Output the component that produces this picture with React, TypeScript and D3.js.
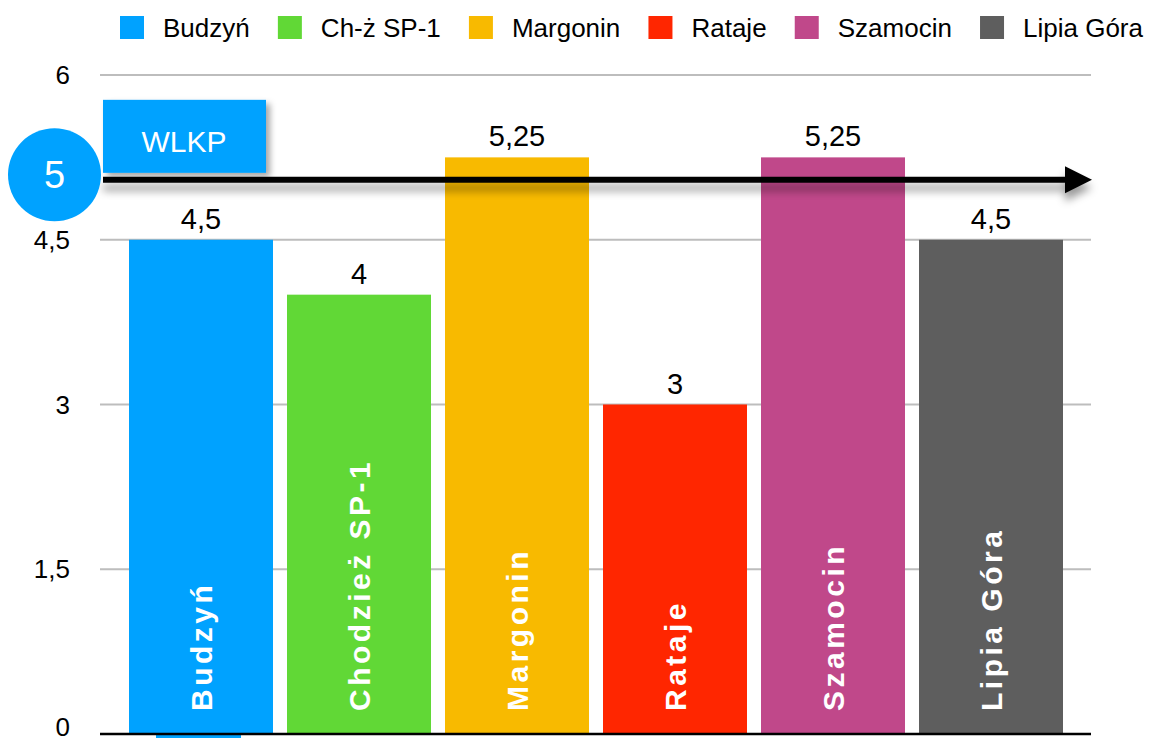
import React, { useEffect, useRef } from 'react';
import * as d3 from 'd3';

const categories = ['Budzyń', 'Chodzież SP-1', 'Margonin', 'Rataje', 'Szamocin', 'Lipia Góra'];
const legendLabels = ['Budzyń', 'Ch-ż SP-1', 'Margonin', 'Rataje', 'Szamocin', 'Lipia Góra'];
const values = [4.5, 4, 5.25, 3, 5.25, 4.5];
const colors = ['#00A2FF', '#61D836', '#F8BA00', '#FF2600', '#C0488A', '#5E5E5E'];
const yTicks = [0, 1.5, 3, 4.5, 6];
const referenceValue = 5;
const referenceLabel = 'WLKP';

const W = 1149;
const H = 744;
const FONT = "'Liberation Sans', Arial, Helvetica, sans-serif";

const fmt = (v: number) => String(v).replace('.', ',');

export default function App() {
  const ref = useRef<SVGSVGElement>(null);

  useEffect(() => {
    const svg = d3.select(ref.current);
    svg.selectAll('*').remove();

    const defs = svg.append('defs');
    const f1 = defs.append('filter').attr('id', 'arrowShadow').attr('x', '-10%').attr('y', '-200%').attr('width', '120%').attr('height', '500%');
    f1.append('feDropShadow').attr('dx', 0).attr('dy', 8).attr('stdDeviation', 4).attr('flood-color', '#000').attr('flood-opacity', 0.4);
    const f2 = defs.append('filter').attr('id', 'boxShadow').attr('x', '-20%').attr('y', '-20%').attr('width', '140%').attr('height', '150%');
    f2.append('feDropShadow').attr('dx', 4).attr('dy', 4).attr('stdDeviation', 3).attr('flood-color', '#000').attr('flood-opacity', 0.35);

    const x = d3.scaleBand<string>().domain(categories).range([122, 1070]).paddingInner(0.0886).paddingOuter(0.0443);
    const y = d3.scaleLinear().domain([0, 6]).range([734, 75]);
    const gridX0 = 100;
    const gridX1 = 1091;

    // gridlines
    svg.append('g').selectAll('line').data(yTicks.filter(t => t > 0)).join('line')
      .attr('x1', gridX0).attr('x2', gridX1)
      .attr('y1', d => y(d)).attr('y2', d => y(d))
      .attr('stroke', '#BDBDBD').attr('stroke-width', 2);

    // y tick labels
    svg.append('g').selectAll('text').data(yTicks).join('text')
      .attr('x', 70).attr('y', d => Math.min(y(d) + 9, H - 8))
      .attr('text-anchor', 'end')
      .attr('font-family', FONT).attr('font-size', 26).attr('fill', '#000')
      .text(d => fmt(d));

    // bars
    svg.append('g').selectAll('rect').data(categories).join('rect')
      .attr('x', d => x(d)!)
      .attr('width', x.bandwidth())
      .attr('y', (d, i) => y(values[i]))
      .attr('height', (d, i) => y(0) - y(values[i]))
      .attr('fill', (d, i) => colors[i]);

    // small block under first bar
    const c0 = x(categories[0])! + x.bandwidth() / 2;
    svg.append('rect').attr('x', c0 - 45).attr('y', y(0)).attr('width', 85).attr('height', 4).attr('fill', colors[0]);

    // baseline
    svg.append('line').attr('x1', gridX0).attr('x2', gridX1).attr('y1', y(0)).attr('y2', y(0))
      .attr('stroke', '#000').attr('stroke-width', 2.5);

    // value labels
    svg.append('g').selectAll('text').data(categories).join('text')
      .attr('x', d => x(d)! + x.bandwidth() / 2)
      .attr('y', (d, i) => y(values[i]) - 11)
      .attr('text-anchor', 'middle')
      .attr('font-family', FONT).attr('font-size', 29).attr('fill', '#000')
      .text((d, i) => fmt(values[i]));

    // inside labels
    svg.append('g').selectAll('text').data(categories).join('text')
      .attr('transform', d => `translate(${x(d)! + x.bandwidth() / 2 + 11},${y(0) - 23}) rotate(-90)`)
      .attr('text-anchor', 'start')
      .attr('font-family', FONT).attr('font-size', 30).attr('font-weight', 'bold')
      .attr('letter-spacing', 3.5)
      .attr('fill', '#fff')
      .text(d => d);

    // reference arrow
    const ry = y(referenceValue) - 5;
    const ag = svg.append('g').attr('filter', 'url(#arrowShadow)');
    ag.append('line').attr('x1', 103).attr('x2', 1068).attr('y1', ry).attr('y2', ry)
      .attr('stroke', '#000').attr('stroke-width', 6);
    ag.append('path').attr('d', `M1065,${ry - 13.5} L1092,${ry} L1065,${ry + 13.5} Z`).attr('fill', '#000');

    // WLKP box
    svg.append('rect').attr('x', 103).attr('y', ry - 80).attr('width', 163).attr('height', 73)
      .attr('fill', '#00A2FF').attr('filter', 'url(#boxShadow)');
    svg.append('text').attr('x', 184).attr('y', ry - 28).attr('text-anchor', 'middle')
      .attr('font-family', FONT).attr('font-size', 30).attr('fill', '#fff').text(referenceLabel);

    // circle
    svg.append('circle').attr('cx', 54.5).attr('cy', ry - 5).attr('r', 46.5).attr('fill', '#00A2FF');
    svg.append('text').attr('x', 54.5).attr('y', ry + 8.5).attr('text-anchor', 'middle')
      .attr('font-family', FONT).attr('font-size', 38).attr('fill', '#fff').text(fmt(referenceValue));

    // legend: measure, then spread between fixed start and end
    const lg = svg.append('g');
    const legStart = 120;
    const legEnd = 1143;
    const items = legendLabels.map((lab, i) => {
      const t = lg.append('text').attr('y', 37)
        .attr('font-family', FONT).attr('font-size', 26).attr('fill', '#000').text(lab);
      return { t, w: (t.node() as SVGTextElement).getComputedTextLength(), i };
    });
    const total = d3.sum(items, it => 43 + it.w);
    const gap = (legEnd - legStart - total) / (items.length - 1);
    let cx = legStart;
    items.forEach(it => {
      lg.append('rect').attr('x', cx).attr('y', 16).attr('width', 24).attr('height', 23).attr('fill', colors[it.i]);
      it.t.attr('x', cx + 43);
      cx = cx + 43 + it.w + gap;
    });
  }, []);

  return (
    <svg ref={ref} width={W} height={H} style={{ position: 'absolute', left: 0, top: 0, background: '#fff' }} />
  );
}
